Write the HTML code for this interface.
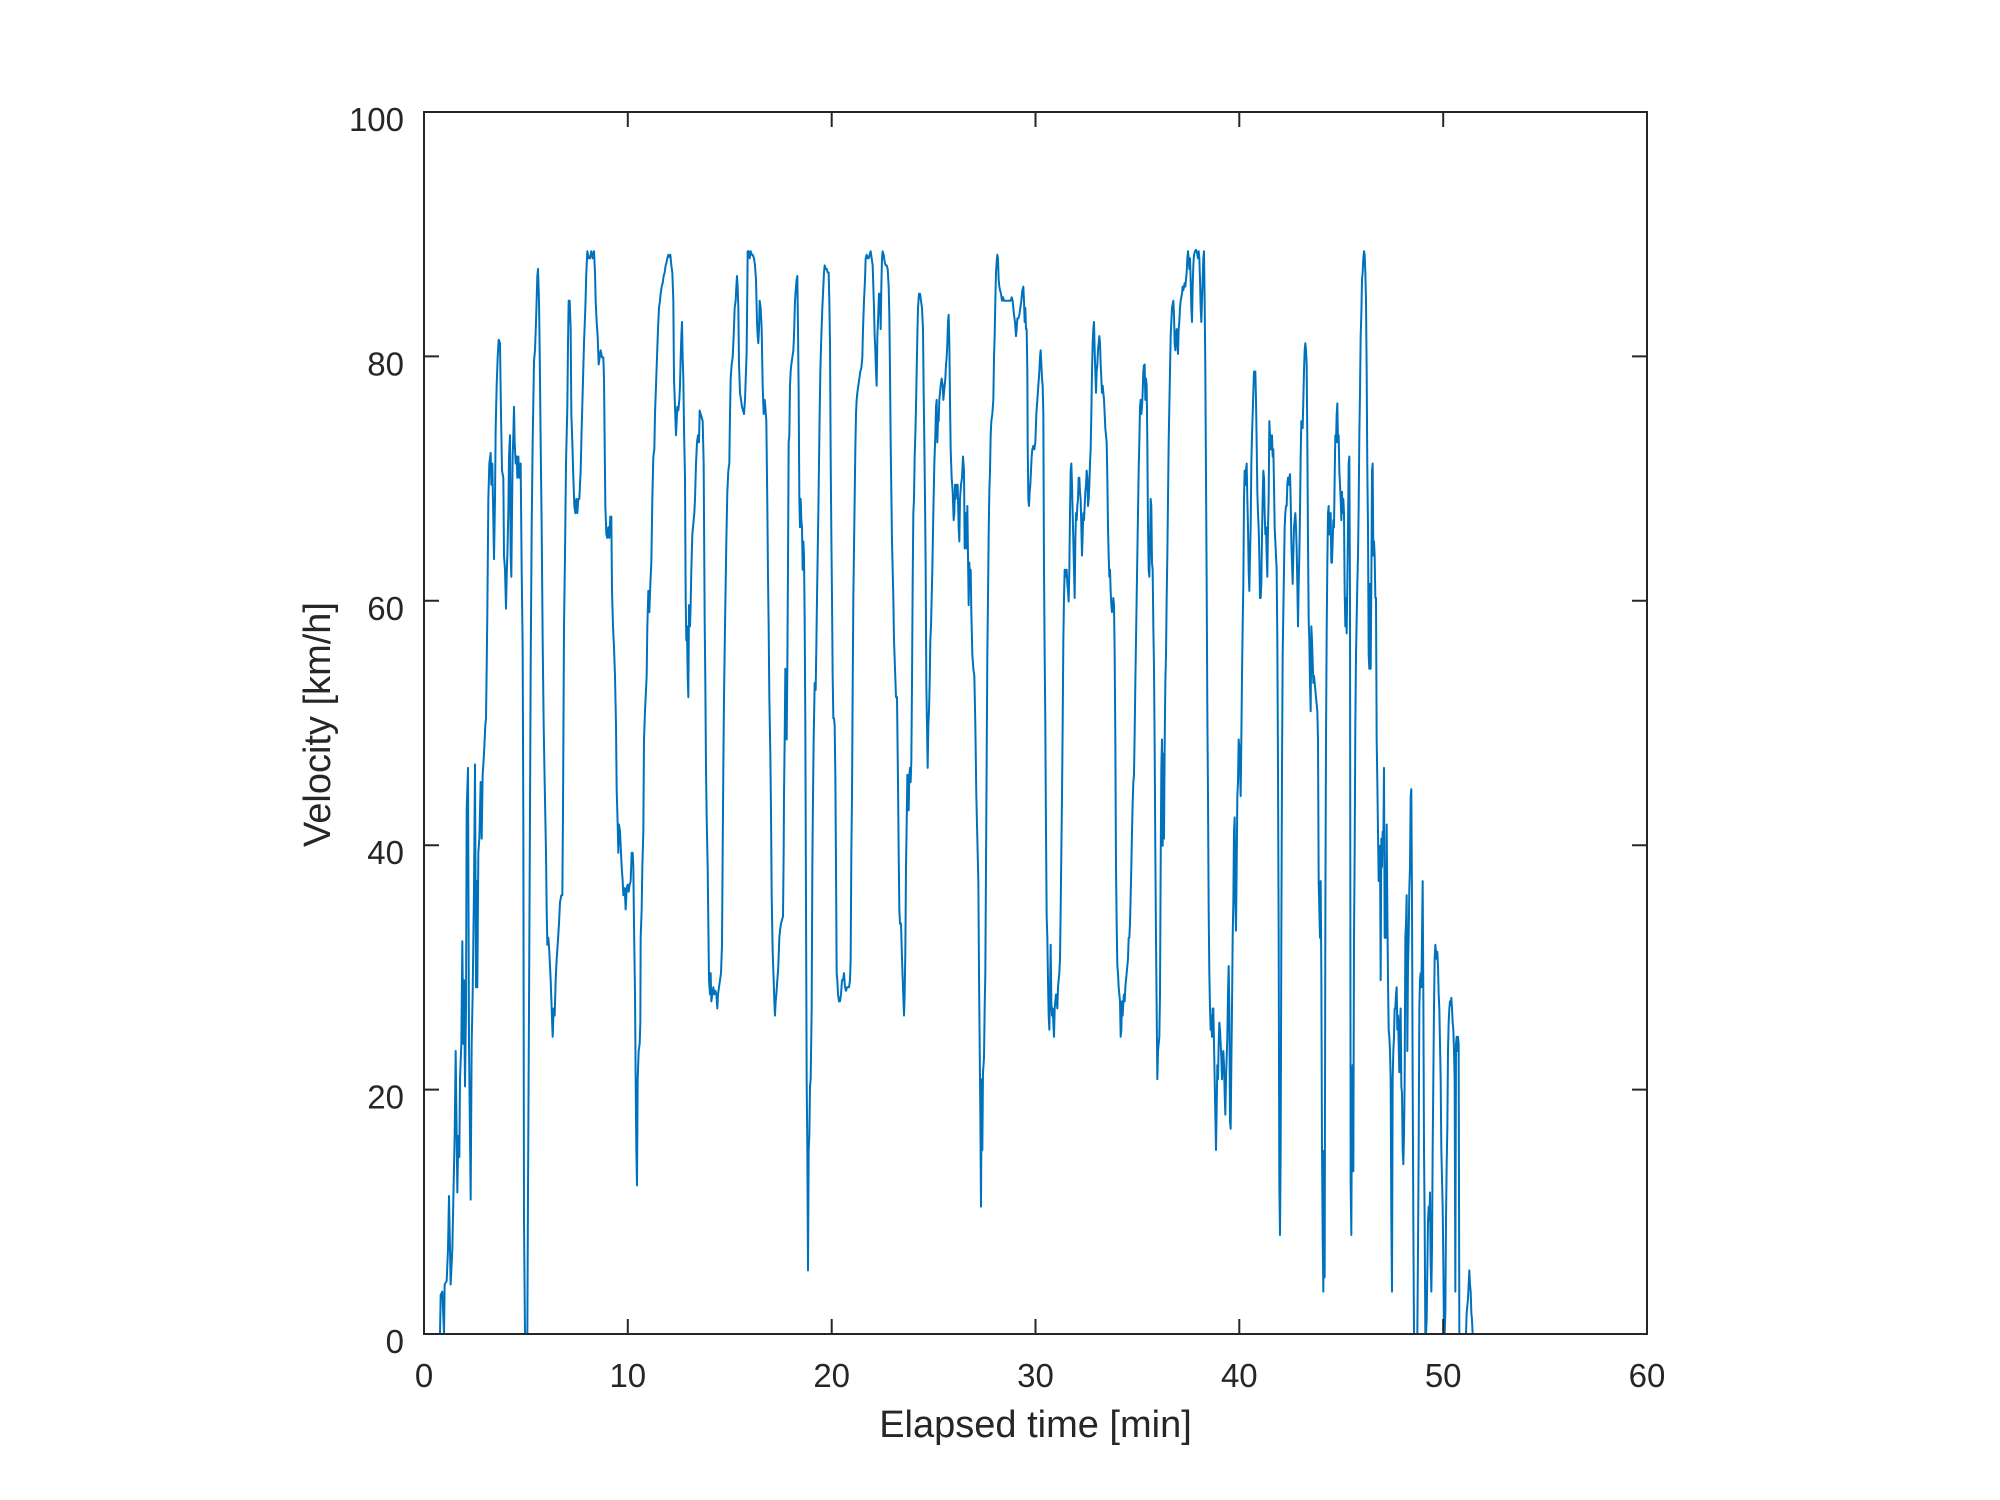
<!DOCTYPE html>
<html>
<head>
<meta charset="utf-8">
<style>
  html, body { margin: 0; padding: 0; background: #ffffff; }
  svg { display: block; }
  text { font-family: "Liberation Sans", Arial, sans-serif; fill: #262626; }
</style>
</head>
<body>
<svg width="2000" height="1500" viewBox="0 0 2000 1500" xmlns="http://www.w3.org/2000/svg">
  <rect x="0" y="0" width="2000" height="1500" fill="#ffffff"/>
  <defs>
    <clipPath id="plotclip"><rect x="424" y="110" width="1223" height="1226"/></clipPath>
  </defs>

  <g clip-path="url(#plotclip)" fill="none" stroke="#0072BD" stroke-width="2" stroke-linejoin="round">
    <!-- strip 1: real x 424-604 -->
    <g transform="translate(424,230) scale(0.333333,0.70771)">
      <polyline vector-effect="non-scaling-stroke" points="0,1560 48,1560 50,1505 55,1500 60,1560 62,1490 68,1485 72,1440 75,1365 78,1440 80,1490 85,1440 88,1370 92,1280 95,1160 98,1280 100,1360 103,1280 106,1310 108,1200 112,1150 115,1005 118,1150 120,1060 123,1210 126,1100 128,820 132,760 135,1150 138,1280 140,1370 143,1150 146,1080 150,930 153,755 156,1070 158,920 160,1070 163,880 166,860 170,780 173,860 176,770 180,740 184,700 186,690 188,620 190,540 193,380 196,330 200,315 202,360 205,330 208,410 210,465 213,380 215,280 218,220 221,180 224,155 228,160 231,260 234,340 238,350 240,460 243,480 246,535 248,490 250,460 253,400 255,320 258,290 260,460 262,490 264,400 266,320 268,290 270,250 272,300 275,330 278,320 280,350 283,320 286,350 290,330 293,480 296,590 298,840 300,1400 303,1560 310,1560 312,1360 315,1100 318,820 320,620 323,420 326,300 330,185 333,170 336,130 340,65 342,55 345,100 347,170 350,300 353,420 356,580 359,700 362,780 366,880 368,960 370,1010 373,1000 376,1020 380,1060 383,1100 386,1140 389,1100 392,1110 395,1060 398,1030 401,1010 405,980 408,950 412,940 415,940 417,820 420,560 423,460 426,330 430,250 432,160 434,100 437,100 440,140 442,260 445,300 448,350 451,390 454,400 457,380 460,400 463,380 466,380 470,340 473,280 476,230 480,160 484,110 487,60 490,30 494,40 498,40 502,30 506,40 510,30 513,60 515,100 518,130 521,150 524,190 527,180 530,170 534,180 538,180 540,210"/>
    </g>
    <!-- strip 2: real x 604-784 -->
    <g transform="translate(604,230) scale(0.333333,0.70771)">
      <polyline vector-effect="non-scaling-stroke" points="0,210 2,300 4,390 7,430 10,435 13,420 16,435 19,405 22,405 24,510 27,560 30,590 33,630 36,700 38,790 41,840 43,880 45,840 48,850 50,870 53,900 56,920 58,940 62,930 65,960 68,930 71,925 74,935 77,925 80,920 83,880 86,880 88,900 90,980 93,1080 95,1200 97,1300 99,1350 101,1200 104,1160 107,1150 109,1120 110,1000 113,960 115,900 118,850 120,720 123,680 125,660 128,630 130,560 133,510 136,540 139,500 142,470 145,380 148,320 151,310 153,260 156,220 159,180 162,140 165,110 168,100 170,90 173,80 176,75 179,65 182,60 185,50 188,45 190,40 193,35 196,38 199,35 202,50 205,60 208,100 210,210 213,250 216,290 218,270 220,250 223,255 226,240 228,220 230,180 232,150 234,130 236,180 238,210 240,280 243,350 245,520 247,580 249,560 251,630 253,660 255,530 258,560 260,530 262,480 265,430 268,415 271,400 273,380 276,330 279,300 282,290 285,300 287,255 290,260 293,265 296,270 299,330 302,550 304,640 306,760 308,830 311,900 313,980 315,1060 318,1080 320,1050 322,1090 325,1080 328,1070 331,1080 334,1075 337,1080 340,1100 342,1080 345,1070 348,1060 351,1050 354,1010 356,880 358,760 360,660 363,560 365,500 367,440 370,370 373,340 376,330 378,260 380,210 383,190 386,180 389,150 392,110 395,100 397,80 399,65 401,80 403,110 405,190 408,230 411,240 414,250 417,255 420,260 423,240 426,200 428,170 430,80 431,30 434,30 437,40 440,30 443,35 446,35 450,40 453,50 456,70 459,130 461,150 463,160 465,140 467,100 470,110 473,140 476,220 479,260 482,240 484,250 487,270 490,390 492,490 494,560 496,660 499,740 501,820 503,940 506,1020 509,1060 511,1090 513,1110 515,1090 517,1080 520,1060 523,1040 526,1000 528,990 531,980 534,975 537,970 539,880 540,800"/>
    </g>
    <!-- strip 3: real x 784-964 -->
    <g transform="translate(784,230) scale(0.333333,0.70771)">
      <polyline vector-effect="non-scaling-stroke" points="0,800 2,720 4,620 6,700 8,720 10,620 12,470 14,300 16,290 18,220 20,200 22,190 25,180 28,170 30,150 33,100 36,80 38,70 40,65 42,140 44,230 46,380 48,420 50,380 52,410 54,420 56,480 58,440 60,460 62,550 64,700 66,950 68,1200 70,1300 72,1470 74,1300 76,1280 78,1210 80,1200 83,1100 85,900 87,800 89,720 92,640 95,650 97,590 99,520 101,460 103,400 105,330 107,260 109,200 112,150 115,110 118,80 120,60 122,50 125,55 128,55 131,60 134,60 136,100 138,160 140,320 142,430 144,520 146,630 148,690 150,690 152,700 154,770 156,900 158,1050 160,1060 162,1080 165,1090 168,1090 171,1080 174,1060 177,1060 180,1050 183,1070 186,1075 189,1070 192,1070 195,1070 198,1060 200,1030 202,880 204,800 206,650 208,520 210,450 212,380 214,310 216,260 218,240 220,230 223,220 226,210 229,200 232,195 235,180 237,140 240,100 243,70 245,40 248,35 251,40 254,40 257,35 260,30 263,40 266,50 268,80 270,110 272,150 274,170 276,200 278,220 280,150 282,130 285,90 288,90 290,140 292,80 294,40 296,30 299,35 302,45 305,50 308,50 311,55 314,80 316,120 318,200 320,300 322,370 324,440 326,480 328,520 330,580 333,620 336,660 339,660 342,780 344,880 346,960 348,980 351,980 354,1030 357,1070 360,1110 362,1080 364,1020 366,900 368,840 370,770 372,780 374,820 376,770 378,760 380,780 382,750 384,640 386,500 388,400 390,380 392,320 394,290 396,250 398,200 400,150 402,110 405,90 408,90 411,100 414,110 417,140 419,230 421,300 423,380 425,480 427,640 429,700 431,760 433,700 435,680 437,640 439,580 441,560 443,520 445,480 448,400 451,330 454,290 456,250 458,240 460,300 462,270 464,270 466,240 468,230 470,220 473,210 476,220 478,240 480,230 482,220 484,210 486,190 488,180 490,160 492,130 494,120 496,160 498,240 500,310 503,350 506,370 509,410 511,400 513,360 515,380 518,360 521,360 524,420 526,440 528,380 531,360 534,350 537,320 540,340"/>
    </g>
    <!-- strip 4: real x 964-1144 -->
    <g transform="translate(964,230) scale(0.333333,0.70771)">
      <polyline vector-effect="non-scaling-stroke" points="0,340 2,450 4,420 6,400 8,450 10,390 12,460 14,530 16,470 18,500 20,480 22,540 25,600 28,620 31,630 34,700 37,800 40,860 43,920 45,1050 47,1150 49,1250 51,1380 53,1200 55,1300 57,1190 60,1170 62,1100 64,1050 66,900 68,750 70,600 72,520 74,430 76,370 78,340 80,290 82,270 85,260 88,240 90,180 92,150 94,100 96,60 98,45 100,35 102,40 104,70 106,80 108,85 111,90 114,100 117,95 120,100 124,100 128,100 132,100 136,100 140,100 143,95 146,100 148,110 150,120 153,130 156,150 158,140 160,125 163,125 166,120 169,110 172,100 175,85 178,80 180,100 182,130 184,110 186,140 188,140 190,200 191,300 193,380 195,390 197,370 199,360 201,340 203,320 205,310 208,305 211,310 214,300 217,260 220,240 223,220 226,200 228,180 230,170 232,190 234,210 236,220 238,260 240,480 242,600 244,700 246,850 248,970 250,1000 252,1060 254,1110 256,1130 258,1080 260,1010 262,1090 264,1110 266,1100 268,1120 270,1140 272,1100 274,1090 276,1080 278,1090 280,1100 282,1070 284,1060 286,1050 288,1030 290,960 292,880 294,800 296,700 298,580 300,520 302,480 304,480 306,490 308,480 310,500 312,510 314,525 316,480 318,400 320,340 322,330 324,360 326,400 328,440 330,480 332,520 334,440 336,400 338,410 340,390 342,380 344,350 346,350 348,370 350,380 352,420 354,460 356,430 358,400 360,410 362,390 364,370 366,360 368,340 370,350 372,390 374,380 376,360 378,330 380,310 382,260 384,200 386,160 388,140 390,130 392,170 394,200 396,230 398,200 400,190 402,170 404,160 406,150 408,160 410,190 412,210 414,230 416,220 418,230 420,240 422,260 424,280 426,290 428,300 430,350 432,420 434,460 436,490 438,480 440,510 442,530 444,540 446,530 448,520 450,530 452,600 454,720 456,900 458,980 460,1040 462,1050 464,1070 466,1080 468,1090 470,1140 472,1130 474,1090 476,1110 478,1090 480,1080 482,1090 484,1070 486,1060 488,1050 490,1040 492,1030 494,1000 496,1000 498,980 500,940 502,900 504,850 506,810 508,780 510,770 512,710 514,640 516,580 518,520 520,460 522,400 524,340 526,300 528,250 530,240 532,260 534,250 536,230 538,200 540,190"/>
    </g>
    <!-- strip 5: real x 1144-1324 -->
    <g transform="translate(1144,230) scale(0.333333,0.70771)">
      <polyline vector-effect="non-scaling-stroke" points="0,190 2,190 4,240 6,210 8,220 10,300 12,420 14,480 16,490 18,450 20,380 22,390 24,470 26,480 28,560 30,620 32,730 34,880 36,1000 38,1100 40,1200 42,1160 44,1150 46,1140 48,1080 50,900 52,760 54,720 56,870 58,740 60,860 62,730 64,640 66,600 68,520 70,460 72,380 74,300 76,250 78,200 80,150 82,130 84,110 86,105 88,100 90,120 92,160 94,170 96,150 98,140 100,160 102,175 104,140 106,130 108,110 110,100 112,95 114,90 116,80 118,85 120,80 122,75 124,80 126,70 128,60 130,40 132,30 134,40 136,55 138,40 140,70 142,110 144,130 146,80 148,50 150,35 153,30 156,28 159,32 162,40 164,30 166,40 168,70 170,110 172,130 174,100 176,70 178,40 180,30 182,100 184,200 186,350 188,500 190,680 192,800 194,960 196,1050 198,1100 200,1130 202,1110 204,1140 206,1100 208,1100 210,1150 212,1200 214,1250 216,1300 218,1240 220,1180 222,1200 224,1150 226,1120 228,1130 230,1150 232,1170 234,1200 236,1170 238,1160 240,1180 242,1220 244,1250 246,1200 248,1170 250,1140 252,1080 254,1040 256,1100 258,1260 260,1270 262,1180 264,1100 266,1000 268,950 270,850 272,830 274,950 276,990 278,900 280,800 282,780 284,720 286,730 288,760 290,800 292,720 294,630 296,560 298,500 300,380 302,340 304,360 306,340 308,330 310,380 312,420 314,480 316,510 318,460 320,420 322,330 324,290 326,260 328,230 330,200 332,210 334,200 336,240 338,300 340,370 342,400 344,420 346,460 348,520 350,520 352,500 354,430 356,380 358,340 360,350 362,400 364,430 366,420 368,460 370,490 372,420 374,380 376,270 378,290 380,310 382,300 384,290 386,320 388,310 390,360 392,420 394,440 396,460 398,480 400,580 402,760 404,1000 406,1350 408,1420 410,1300 412,1000 414,760 416,600 418,540 420,480 422,420 424,400 426,390 428,390 430,360 432,350 434,360 436,350 438,345 440,380 442,440 444,470 446,500 448,460 450,420 452,410 454,400 456,420 458,450 460,500 462,560 464,500 466,460 468,400 470,320 472,270 474,280 476,280 478,240 480,200 482,170 484,160 486,170 488,190 490,300 492,440 494,550 496,580 498,640 500,680 502,560 504,580 506,610 508,640 510,630 512,640 514,650 516,660 518,670 520,680 522,720 524,920 526,960 528,1000 530,920 532,1050 534,1300 536,1420 538,1500 540,1300"/>
    </g>
    <!-- strip 6: real x 1324-1504 -->
    <g transform="translate(1324,230) scale(0.333333,0.70771)">
      <polyline vector-effect="non-scaling-stroke" points="0,1300 2,1480 4,980 6,720 8,570 10,470 12,400 14,390 16,430 18,410 20,400 22,470 24,470 26,440 28,410 30,420 32,350 34,290 36,300 38,260 40,245 42,300 44,290 46,340 48,360 50,380 52,410 54,370 56,400 58,380 60,400 62,510 64,560 66,520 68,570 70,500 72,420 74,330 76,320 78,520 80,1350 82,1420 84,1200 86,1180 88,1330 90,1000 92,880 94,700 96,600 98,550 100,500 102,460 104,390 106,290 108,230 110,150 112,120 114,70 116,60 118,40 120,30 122,35 124,60 126,100 128,200 130,340 132,420 134,600 136,620 138,500 140,620 142,500 144,340 146,330 148,460 150,440 152,460 154,520 156,520 158,720 160,780 162,850 164,920 166,900 168,870 170,1060 172,860 174,900 176,850 178,870 180,760 182,1000 184,900 186,1000 188,840 190,960 192,1060 194,1130 196,1140 198,1160 200,1200 202,1400 204,1500 206,1200 208,1160 210,1140 212,1100 214,1100 216,1080 218,1070 220,1130 222,1110 224,1150 226,1190 228,1120 230,1100 232,1210 234,1220 236,1300 238,1320 240,1280 242,1200 244,1000 246,980 248,940 250,1160 252,1040 254,1000 256,930 258,900 260,800 262,790 264,950 266,1200 268,1400 270,1560 272,1560 280,1560 282,1440 284,1300 286,1100 288,1060 290,1050 292,1070 294,1000 296,920 298,1080 300,1300 302,1400 304,1560 306,1560 308,1540 310,1470 312,1400 314,1380 316,1400 318,1360 320,1460 322,1500 324,1440 326,1300 328,1200 330,1100 332,1030 334,1010 336,1020 338,1030 340,1020 342,1040 344,1080 346,1100 348,1150 350,1200 352,1300 354,1340 356,1380 358,1460 360,1560 362,1560 364,1530 366,1400 368,1320 370,1270 372,1160 374,1120 376,1100 378,1090 380,1095 382,1085 384,1100 386,1120 388,1130 390,1160 392,1200 394,1500 396,1150 398,1140 400,1160 402,1140 404,1150 406,1560 408,1560 426,1560 428,1530 430,1520 432,1510 434,1490 436,1470 438,1490 440,1500 442,1530 444,1540 446,1560 450,1560"/>
    </g>
  </g>

  <!-- axes box -->
  <g stroke="#262626" stroke-width="2" fill="none">
    <rect x="424" y="112" width="1223" height="1222"/>
    <!-- x ticks bottom & top -->
    <path d="M627.8,1334 V1319 M831.7,1334 V1319 M1035.5,1334 V1319 M1239.3,1334 V1319 M1443.2,1334 V1319
             M627.8,112 V127 M831.7,112 V127 M1035.5,112 V127 M1239.3,112 V127 M1443.2,112 V127"/>
    <!-- y ticks left & right -->
    <path d="M424,1089.6 H439 M424,845.2 H439 M424,600.8 H439 M424,356.4 H439
             M1647,1089.6 H1632 M1647,845.2 H1632 M1647,600.8 H1632 M1647,356.4 H1632"/>
  </g>

  <!-- x tick labels -->
  <g font-size="33" text-anchor="middle">
    <text x="424" y="1387">0</text>
    <text x="627.8" y="1387">10</text>
    <text x="831.7" y="1387">20</text>
    <text x="1035.5" y="1387">30</text>
    <text x="1239.3" y="1387">40</text>
    <text x="1443.2" y="1387">50</text>
    <text x="1647" y="1387">60</text>
  </g>

  <!-- y tick labels -->
  <g font-size="33" text-anchor="end">
    <text x="404" y="1353">0</text>
    <text x="404" y="1108.6">20</text>
    <text x="404" y="864.2">40</text>
    <text x="404" y="619.8">60</text>
    <text x="404" y="375.4">80</text>
    <text x="404" y="131">100</text>
  </g>

  <!-- axis labels -->
  <text x="1035.5" y="1437" font-size="38" text-anchor="middle">Elapsed time [min]</text>
  <text transform="translate(330,724.5) rotate(-90)" x="0" y="0" font-size="38" text-anchor="middle">Velocity [km/h]</text>
</svg>
</body>
</html>
